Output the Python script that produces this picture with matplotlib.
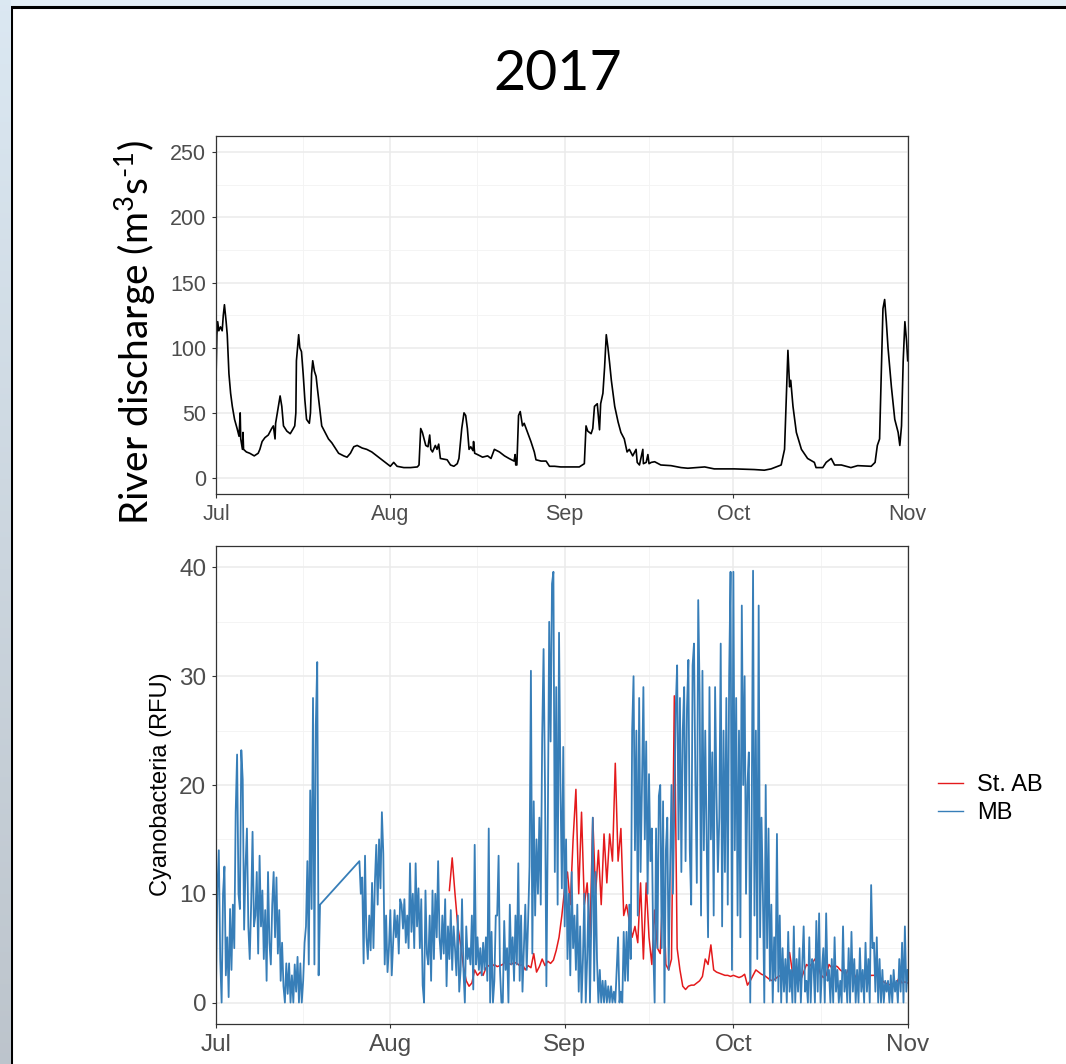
import matplotlib.pyplot as plt
import numpy as np
from matplotlib.lines import Line2D
from matplotlib.patches import Rectangle

plt.rcParams['font.family'] = ['Liberation Sans', 'DejaVu Sans']
plt.rcParams['mathtext.fontset'] = 'custom'
plt.rcParams['mathtext.rm'] = 'Lato'

# x axis = days since 1 July 2017
month_pos = [0, 31, 62, 92, 123]
month_labels = ['Jul', 'Aug', 'Sep', 'Oct', 'Nov']

# river discharge (m3/s), read at irregular times
q_day = [0.0, 0.15, 0.3, 0.5, 0.8, 1.1, 1.3, 1.5, 1.8, 2.0, 2.3, 2.6, 2.9, 3.3, 3.75,
         4.1, 4.3, 4.4, 4.7, 4.8, 4.9, 5.4, 6.0, 6.8, 7.5, 7.8, 8.2, 8.7, 9.3, 9.9,
         10.2, 10.5, 10.6, 11.1, 11.4, 11.7, 12.0, 12.6, 13.2, 13.75, 14.0, 14.2, 14.3,
         14.7, 14.9, 15.2, 15.5, 15.8, 16.1, 16.6, 16.8, 17.0, 17.2, 17.5, 17.8, 18.0,
         18.4, 18.8, 19.4, 20.0, 20.6, 21.2, 21.8, 22.7, 23.3, 23.9, 24.5, 25.1, 26.0,
         26.8, 27.7, 28.6, 29.5, 30.4, 31.0, 31.6, 32.2, 33.4, 34.6, 35.8, 36.1, 36.4,
         36.7, 37.0, 37.3, 37.7, 38.0, 38.2, 38.5, 39.0, 39.3, 39.6, 39.9, 41.1, 41.7,
         42.3, 42.9, 43.2, 43.7, 44.1, 44.4, 44.7, 45.0, 45.3, 45.7, 45.8, 46.0, 46.5,
         47.4, 48.3, 48.9, 49.5, 50.4, 51.3, 52.1, 53.0, 53.2, 53.3, 53.5, 53.8, 54.1,
         54.5, 54.8, 55.4, 56.0, 56.6, 56.9, 57.8, 58.7, 59.3, 60.2, 61.3, 63.1, 64.6,
         65.5, 65.8, 66.1, 66.7, 67.0, 67.3, 67.8, 68.2, 68.4, 68.8, 69.1, 69.4, 69.7,
         70.0, 70.3, 70.9, 71.5, 72.0, 72.6, 73.1, 73.5, 74.1, 74.7, 74.9, 75.3, 75.9,
         76.0, 76.5, 76.8, 77.0, 77.4, 78.0, 79.1, 80.9, 82.7, 83.9, 86.9, 88.6, 92.2,
         95.7, 97.5, 98.7, 99.9, 100.5, 101.1, 101.4, 101.7, 102.0, 102.2, 102.6, 103.2,
         104.1, 105.2, 106.4, 106.7, 107.9, 108.5, 109.4, 110.0, 111.2, 112.9, 114.1,
         116.5, 117.2, 117.6, 118.0, 118.3, 118.6, 118.9, 119.2, 119.5, 120.1, 120.7,
         121.3, 121.6, 121.9, 122.2, 122.5, 122.8, 123.0]
q_val = [75, 110, 120, 113, 116, 113, 125, 133, 120, 110, 80, 65, 55, 45, 38,
         32, 50, 30, 22, 35, 22, 20, 19, 17, 19, 22, 28, 31, 33, 38,
         40, 30, 42, 55, 63, 55, 40, 36, 34, 38, 40, 50, 90,
         110, 100, 97, 80, 60, 45, 42, 50, 80, 90, 82, 78, 70,
         55, 40, 35, 30, 27, 23, 19, 17, 16, 19, 24, 25, 23,
         22, 20, 17, 14, 11, 9, 12, 9, 8, 8, 8.5, 10, 38,
         35, 30, 25, 24, 33, 22, 20, 25, 22, 26, 15, 14, 10,
         9, 11, 15, 38, 50, 48, 38, 22, 24, 21, 28, 19, 18,
         16, 17, 15, 22, 20, 17, 15, 13, 18, 10, 10, 48, 51,
         40, 42, 35, 28, 20, 14, 13, 13, 9, 9, 8.5, 8.5, 8.5,
         11, 40, 36, 34, 38, 55, 57, 37, 57, 65, 85, 110, 100,
         88, 75, 55, 43, 35, 30, 20, 22, 17, 22, 12, 10, 22,
         11, 12, 18, 11, 12, 12.5, 10, 9.5, 8, 7.5, 8.5, 7, 7,
         6.5, 6, 7, 9, 10, 22, 60, 98, 70, 75, 55, 35,
         22, 15, 12, 8, 8, 12, 15, 10, 10, 8, 9.5,
         9, 12, 25, 30, 80, 130, 137, 120, 100, 70, 45,
         35, 25, 40, 90, 120, 105, 90]

# MB cyanobacteria (RFU), every 6 h; logger gap between the two parts
mb_start1 = 0.0
mb_part1 = [1.5, 10.5, 14, 4, 0, 10, 12.5, 2.5, 6, 0.5, 8.6, 3, 9, 5, 17.5, 22.8,
            10, 8.6, 23.2, 20.5, 6.7, 12.5, 16, 7, 4, 9, 15.7, 7, 8, 12, 4.5, 13.5,
            7, 10.3, 4, 8.5, 2, 12, 5.5, 3.5, 9, 12, 6, 11.5, 4.5, 8.5, 2, 5.5,
            1.5, 0, 3.6, 0.8, 3.6, 0, 2.5, 0, 3.5, 1, 4.2, 0, 3.6, 0, 2, 5.5,
            7, 13, 3.5, 19.5, 8.6, 28, 3.5, 25.5, 31.3, 2.5, 9]
mb_start2 = 25.5
mb_part2 = [13, 10,
            11.5, 3.6, 13.5, 6, 4, 8, 4.8, 11, 5, 11, 14.5, 9, 15, 10.5, 17.5, 13.7,
            3.5, 8, 2.8, 5, 8.5, 2.5, 5.5, 8.5, 6, 8, 4.5, 9.5, 9, 6.8, 9.5, 5.5,
            8, 5, 12.8, 6.5, 10, 5, 12.8, 7, 10.5, 5, 9.5, 1.6, 0, 10.3, 4.5, 3.5,
            8, 2, 10.3, 4, 10, 6, 13, 6, 4, 8, 4.5, 9.5, 1.5, 7, 4, 8.5,
            3, 7, 5, 2.5, 8, 1, 3, 9.5, 3, 0, 7, 4, 5, 3.5, 8, 1.2,
            14.5, 3.5, 6, 3, 5, 2.5, 5.5, 3, 6, 2, 16, 0, 6.5, 0, 2, 8,
            8, 13.5, 3, 0, 0, 7.5, 3, 5, 0, 9, 3.5, 6, 2, 8, 3.5, 12.8,
            2, 8, 1, 5, 9, 3, 7.5, 12.5, 30.5, 4.5, 18.5, 8, 15, 10, 17, 9,
            24.3, 32.5, 20, 1.5, 16, 35, 24, 38.5, 39.6, 12, 29, 9, 34, 20, 10.5, 23.5,
            7, 15, 4, 10, 2.5, 12, 5, 8, 3, 9, 1, 7, 0, 4, 10, 0,
            4, 10, 0, 8, 17, 2, 12, 4, 0, 3, 0, 2, 0, 2, 0, 1.5,
            0, 1.5, 0, 1, 0, 3, 6, 0, 1, 0, 6.5, 2, 6.5, 2, 9, 4,
            25, 30, 14, 25, 8, 28, 12, 20, 29, 15, 24, 10, 21, 13, 16, 5,
            0, 16, 5, 19, 20, 5, 18.5, 0, 14, 17, 3, 12, 20, 10, 18, 27,
            31, 15, 28, 12, 25, 29, 13, 27, 31.5, 14, 9, 31, 33, 20, 11, 37,
            28.5, 8, 30.5, 14, 25, 15, 6, 29, 15, 23, 8, 29, 19, 12, 17, 33,
            7, 25, 12, 28, 9, 30, 39.6, 3, 39.6, 14, 28, 8, 25, 6, 36.5, 20,
            30, 10, 20, 23, 0, 16, 39.7, 8, 25, 4, 36.5, 6, 17, 10, 0, 20,
            5, 16, 2, 9, 0, 6, 2, 15.5, 1, 8, 0, 5, 1, 4, 0, 6.5,
            1, 3, 0, 7, 0, 4, 1, 5, 0, 3.5, 7, 1, 2, 0, 6, 0,
            4, 3.5, 0, 7.5, 1, 8.2, 0, 3, 5, 0, 8.2, 2, 3, 0, 4, 0,
            6, 1, 3, 0, 2, 0, 7, 1, 3, 0, 5, 0, 6.5, 1, 4, 0,
            3, 0, 5, 1, 3, 0, 5.5, 1, 4, 0, 10.8, 5, 5.5, 1, 6, 0,
            4, 0, 3, 0, 2, 1, 2, 0, 2.5, 0, 3, 1, 2, 0, 4, 1,
            5.5, 0, 7, 1, 3]

# St. AB cyanobacteria (RFU), every 12 h
ab_start = 41.5
ab_vals = [10.3, 13.3, 10, 7, 5.3, 3.3, 2, 1.5, 1.8, 3, 2.5, 2.8, 2.5, 3.2, 3.4, 3.3,
           3.5, 3.3, 3.4, 3.5, 3.8, 3.6, 3.5, 3.7, 3.6, 3.4, 3.5, 3.0, 3.4, 3.2, 4.5, 2.8,
           3.3, 4.0, 3.4, 3.8, 3.6, 3.9, 4.8, 6.0, 8.0, 10.5, 12, 9, 15, 19.6, 10, 17.5,
           9, 11, 6, 17, 10, 14, 9, 15.5, 11, 15.5, 13, 22, 13, 16, 8, 9,
           7.5, 6, 7, 5.5, 11, 4, 11, 6, 3.5, 8.5, 5, 4.5, 11, 3.5, 3, 4,
           28.2, 5, 3, 1.5, 1.2, 1.5, 1.6, 1.6, 1.8, 2.0, 2.4, 4.0, 3.5, 5.3, 3, 2.8,
           2.7, 2.6, 2.5, 2.5, 2.4, 2.5, 2.4, 2.3, 2.4, 2.6, 1.6, 2.0, 2.5, 3.0, 2.8, 2.6,
           2.5, 2.3, 2.1, 2.0, 2.2, 2.4, 2.5, 2.8, 3.0, 4.6, 2.8, 2.5, 2.0, 2.1, 2.8, 3.5,
           3.3, 3.6, 4.0, 3.5, 2.6, 2.3, 2.5, 3.5, 3.2, 3.4, 3.3, 3.0, 2.8, 2.6, 3.1, 2.8,
           2.6, 2.1, 2.3, 2.2, 2.2, 2.3, 2.5, 2.5, 2.5, 2.4, 2.0, 1.8, 1.7, 1.6, 1.7, 1.8,
           2.3, 1.8, 1.9, 1.8]

mb_day = np.concatenate([mb_start1 + 0.25 * np.arange(len(mb_part1)),
                         mb_start2 + 0.25 * np.arange(len(mb_part2))])
mb_val = np.array(mb_part1 + mb_part2)
ab_day = ab_start + 0.5 * np.arange(len(ab_vals))

W, H = 1066, 1064
fig = plt.figure(figsize=(W / 100, H / 100), dpi=100)
fig.patch.set_facecolor('#E3EEF6')

# slide background strip on the left + white slide with black frame
strip = fig.add_axes([0, 0, 11 / W, 1])
grad = np.linspace(0, 1, 200)[:, None, None]
top_c = np.array([0.86, 0.91, 0.95])
bot_c = np.array([0.74, 0.77, 0.80])
strip.imshow(top_c * (1 - grad) + bot_c * grad, aspect='auto', extent=[0, 1, 0, 1])
strip.axis('off')
fig.add_artist(Rectangle((10.8 / W, -0.05), 1.0, 1.05 - 6.5 / H, transform=fig.transFigure,
                         facecolor='white', edgecolor='black', linewidth=2.2, zorder=-1))


def style(ax, ylim, yticks, yminor, fs):
    ax.set_xlim(0, 123)
    ax.set_ylim(*ylim)
    ax.set_xticks(month_pos)
    ax.set_xticklabels(month_labels)
    ax.set_xticks([15.5, 46.5, 77, 107.5], minor=True)
    ax.set_yticks(yticks)
    ax.set_yticks(yminor, minor=True)
    ax.grid(which='major', color='#EBEBEB', linewidth=1.1)
    ax.grid(which='minor', color='#F3F3F3', linewidth=0.6)
    ax.set_axisbelow(True)
    ax.tick_params(which='minor', length=0)
    ax.tick_params(which='major', length=3, width=0.8, color='#333333',
                   labelsize=fs, labelcolor='#4D4D4D', pad=4)
    for s in ax.spines.values():
        s.set_color('#333333')
        s.set_linewidth(0.9)


ax1 = fig.add_axes([216 / W, 1 - 494.3 / H, 691.7 / W, 358.3 / H])
ax1.plot(q_day, q_val, color='black', linewidth=1.2)
style(ax1, (-12.5, 262.5), [0, 50, 100, 150, 200, 250], [25, 75, 125, 175, 225], 15.5)

ax2 = fig.add_axes([216 / W, 1 - 1024.3 / H, 691.7 / W, 478.6 / H])
ax2.plot(ab_day, ab_vals, color='#E41A1C', linewidth=1.1)
ax2.plot(mb_day, mb_val, color='#377EB8', linewidth=1.3)
style(ax2, (-2, 42), [0, 10, 20, 30, 40], [5, 15, 25, 35], 17.5)

fig.text(558 / W, 1 - 74 / H, '2017', ha='center', va='center', fontsize=40, family='Lato')
fig.text(136 / W, 1 - 332 / H, 'River discharge (m$^{\\mathregular{3}}$s$^{\\mathregular{\u20101}}$)',
         rotation=90, ha='center', va='center', fontsize=28, family='Lato')
fig.text(161 / W, 1 - 784 / H, 'Cyanobacteria (RFU)', rotation=90, ha='center', va='center',
         fontsize=17, color='black')

handles = [Line2D([], [], color='#E41A1C', linewidth=1.0),
           Line2D([], [], color='#377EB8', linewidth=1.0)]
ax2.legend(handles, ['St. AB', 'MB'], loc='upper left', bbox_to_anchor=(938 / W, 1 - 774 / H),
           bbox_transform=fig.transFigure, frameon=False, fontsize=17, handlelength=1.05,
           handletextpad=0.6, labelspacing=0.25, borderpad=0, borderaxespad=0)

fig.savefig('out.png', dpi=100, facecolor=fig.get_facecolor())
